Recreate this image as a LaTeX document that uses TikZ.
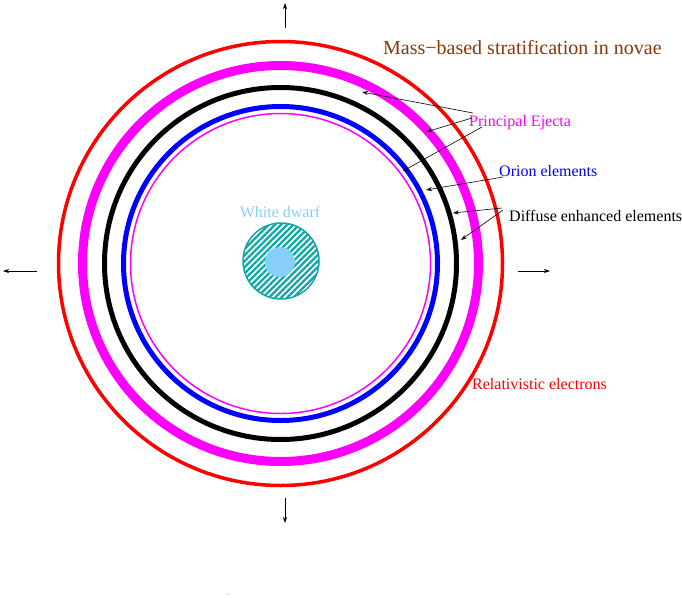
\documentclass[tikz,border=0pt]{standalone}
\usepackage{fontspec}
\setmainfont{Liberation Serif}
\usetikzlibrary{arrows.meta,patterns.meta}
\definecolor{wdteal}{RGB}{16,168,164}
\definecolor{wdblue}{RGB}{135,206,250}
\definecolor{titlebrown}{RGB}{135,55,10}
\definecolor{pmag}{RGB}{255,0,255}
\definecolor{pred}{RGB}{255,0,0}
\definecolor{pblue}{RGB}{0,0,255}
\tikzset{
  ring/.style={draw=#1},
  lbl/.style={anchor=west,inner sep=0pt,font=\fontsize{16}{18}\selectfont},
  ptr/.style={draw=black,line width=0.6pt,-{Stealth[length=6pt,width=4pt]}},
  dirarrow/.style={draw=black,line width=0.6pt,-{Stealth[length=6pt,width=4pt]}}
}
\begin{document}
\begin{tikzpicture}[x=1pt,y=-1pt]
\useasboundingbox (0,0) rectangle (682,597);
\coordinate (c) at (280.5,263.5);
% rings
\draw[ring=pred,line width=3.5pt] (c) circle[radius=222];
\draw[ring=pmag,line width=9pt] (c) circle[radius=198];
\draw[ring=black,line width=5pt] (c) circle[radius=176];
\draw[ring=pblue,line width=5pt] (c) circle[radius=157];
\draw[ring=pmag,line width=1.5pt] (c) circle[radius=150];
% white dwarf
\draw[draw=wdteal,line width=1.5pt,pattern={Lines[angle=45,distance=4.3pt,line width=2.3pt]},pattern color=wdteal] (281,261) circle[radius=38];
\fill[wdblue] (280,262) circle[radius=15];
\node[inner sep=0pt,font=\fontsize{16}{18}\selectfont,text=wdblue] (wd) at (280,212) {White dwarf};
% direction arrows
\coordinate (ut) at (285,28); \coordinate (uh) at (285,3);
\coordinate (dt) at (285,498); \coordinate (dh) at (285,523);
\coordinate (lt) at (37,271); \coordinate (lh) at (3,271);
\coordinate (rt) at (518,271); \coordinate (rh) at (550,271);
\draw[dirarrow] (ut) -- (uh);
\draw[dirarrow] (dt) -- (dh);
\draw[dirarrow] (lt) -- (lh);
\draw[dirarrow] (rt) -- (rh);
% labels
\node[anchor=west,inner sep=0pt,font=\fontsize{20}{22}\selectfont,text=titlebrown] (title) at (383,48) {Mass−based stratification in novae};
\node[lbl,text=pmag] (pe) at (469,123) {Principal Ejecta};
\node[lbl,text=pblue] (oe) at (499,171) {Orion elements};
\node[lbl,text=black] (de) at (509,216) {Diffuse enhanced elements};
\node[lbl,text=pred] (re) at (472,384) {Relativistic electrons};
% pointer ends
\coordinate (pe1s) at (473,113); \coordinate (pe1e) at (362,92);
\coordinate (pe2s) at (472,118); \coordinate (pe2e) at (426,132);
\coordinate (pe3s) at (482,127); \coordinate (pe3e) at (403,171);
\coordinate (oes) at (503,177); \coordinate (oee) at (426,190);
\coordinate (de1s) at (502,208); \coordinate (de1e) at (453,213);
\coordinate (de2s) at (503,210); \coordinate (de2e) at (461,240);
\draw[ptr] (pe1s) -- (pe1e);
\draw[ptr] (pe2s) -- (pe2e);
\draw[ptr] (pe3s) -- (pe3e);
\draw[ptr] (oes) -- (oee);
\draw[ptr] (de1s) -- (de1e);
\draw[ptr] (de2s) -- (de2e);
% stray dot
\fill[gray] (228,594) circle[radius=0.6];
\end{tikzpicture}
\end{document}
